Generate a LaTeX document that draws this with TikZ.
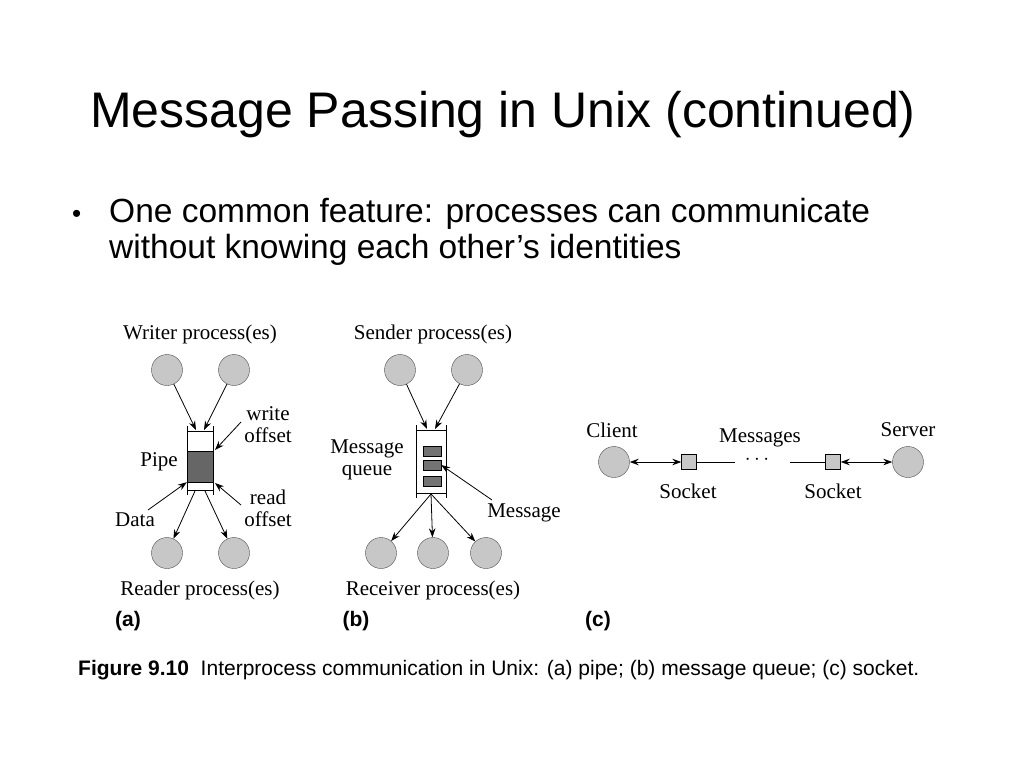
\documentclass[tikz,border=0pt]{standalone}
\usepackage{fontspec}
\usetikzlibrary{arrows.meta}
\setmainfont{Liberation Sans}
\newfontfamily\serf{Liberation Serif}
\begin{document}
\begin{tikzpicture}[x=1pt,y=-1pt,
 proc/.style={circle,draw=black!70,fill=black!22,minimum size=31pt,inner sep=0pt},
 lab/.style={font=\serf\fontsize{21}{22}\selectfont,inner sep=0pt,align=center},
 arr/.style={-{Stealth[length=9pt,width=6.5pt]},line width=0.8pt},
 arrb/.style={{Stealth[length=9pt,width=6.5pt]}-{Stealth[length=9pt,width=6.5pt]},line width=0.8pt},
 msg/.style={draw,fill=black!55,minimum width=18pt,minimum height=10pt,inner sep=0pt},
 sock/.style={draw,fill=black!22,minimum size=15pt,inner sep=0pt}]
\useasboundingbox (0,0) rectangle (1024,768);
\node[font=\fontsize{50}{54}\selectfont,anchor=base west,inner sep=0pt] (title) at (90,127) {Message Passing in Unix (continued)};
\node[font=\fontsize{26}{34}\selectfont,anchor=base west,inner sep=0pt] (bul) at (72,222) {•};
\node[font=\fontsize{33.5}{36}\selectfont,anchor=base west,align=left,inner sep=0pt] (btxt) at (109,222) {One common feature: processes can communicate};
\node[font=\fontsize{33.5}{36}\selectfont,anchor=base west,align=left,inner sep=0pt] (btxt2) at (109,258) {without knowing each other’s identities};
% (a)
\node[lab] (wt) at (200,334) {Writer process(es)};
\node[proc] (w1) at (167,370) {};
\node[proc] (w2) at (234,370) {};
\node[draw,fill=black!60,minimum width=26pt,minimum height=31pt,inner sep=0pt] (data) at (200,466.5) {};
\draw (187,426) -- (187,495) (213,426) -- (213,495) (187,431) -- (213,431) (187,490) -- (213,490);
\coordinate (pt1) at (196,430); \coordinate (pt2) at (204,430);
\draw[arr] (w1) -- (pt1); \draw[arr] (w2) -- (pt2);
\coordinate (pb1) at (195,491); \coordinate (pb2) at (205,491);
\node[proc] (r1) at (167,553) {};
\node[proc] (r2) at (234,553) {};
\draw[arr] (pb1) -- (r1); \draw[arr] (pb2) -- (r2);
\node[lab] (wo) at (268,425) {write\\offset};
\node[lab] (ro) at (268,508) {read\\offset};
\node[lab,anchor=east] (pipe) at (178,462) {Pipe};
\node[lab] (dl) at (135,520) {Data};
\coordinate (wop) at (215,450); \coordinate (rop) at (215,483);
\draw[arr] (241,422) -- (wop);
\draw[arr] (241,505) -- (rop);
\draw[arr] (148,510) -- (data.south west);
\node[lab] (rt) at (200,590) {Reader process(es)};
\node[font=\bfseries\fontsize{21}{22}\selectfont] (la) at (128,621) {(a)};
% (b)
\node[lab] (st) at (433,334) {Sender process(es)};
\node[proc] (s1) at (400,370) {};
\node[proc] (s2) at (467,370) {};
\draw (416,425) -- (416,498) (446,425) -- (446,498) (416,430) -- (446,430) (416,493) -- (446,493);
\node[msg] (m1) at (432,451.5) {};
\node[msg] (m2) at (432,465) {};
\node[msg] (m3) at (432,481.5) {};
\coordinate (qt1) at (427,429); \coordinate (qt2) at (435,429);
\draw[arr] (s1) -- (qt1); \draw[arr] (s2) -- (qt2);
\coordinate (qb) at (431,494);
\node[proc] (v1) at (381,553) {};
\node[proc] (v2) at (433,553) {};
\node[proc] (v3) at (486,553) {};
\draw[arr] (qb) -- (v1); \draw[arr] (qb) -- (v2); \draw[arr] (qb) -- (v3);
\node[lab] (mq) at (367,460) {Message\\queue};
\node[lab] (ml) at (524,513) {Message};
\draw[arr] (492,500) -- (m2.east);
\node[lab] (vt) at (433,590) {Receiver process(es)};
\node[font=\bfseries\fontsize{21}{22}\selectfont] (lb) at (356,621) {(b)};
% (c)
\node[proc] (cl) at (614,462) {};
\node[proc] (sv) at (908,462) {};
\node[sock] (sk1) at (689,462) {};
\node[sock] (sk2) at (833,462) {};
\draw[arrb] (cl) -- (sk1);
\draw[arrb] (sk2) -- (sv);
\coordinate (e1) at (735,462); \coordinate (e2) at (790,462);
\draw[line width=0.8pt] (sk1) -- (e1);
\draw[line width=0.8pt] (e2) -- (sk2);
\node[lab] (dots) at (757,460) {$\cdots$};
\node[lab] (clt) at (612,430) {Client};
\node[lab] (svt) at (908,430) {Server};
\node[lab] (mst) at (760,438) {Messages};
\node[lab] (s1t) at (688,491) {Socket};
\node[lab] (s2t) at (833,491) {Socket};
\node[font=\bfseries\fontsize{21}{22}\selectfont] (lc) at (598,621) {(c)};
% caption
\node[anchor=base west,inner sep=0pt,font=\fontsize{21}{22}\selectfont] (cap) at (78,675) {{\bfseries Figure 9.10}\ \ Interprocess communication in Unix: (a) pipe; (b) message queue; (c) socket.};
\end{tikzpicture}
\end{document}
